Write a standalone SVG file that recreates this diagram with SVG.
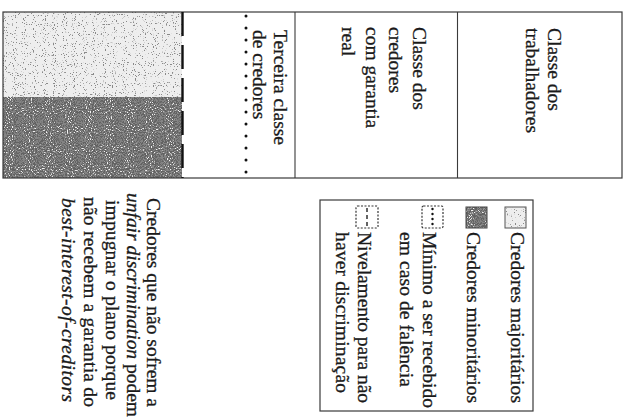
<svg xmlns="http://www.w3.org/2000/svg" width="626" height="419" viewBox="0 0 626 419">
<style>
  .t { font-family: "Liberation Serif", "Times New Roman", serif; font-size: 19.5px; fill: #1a1a1a; stroke: #1a1a1a; stroke-width: 0.3; }
  .i { font-style: italic; }
  .frame { fill: none; stroke: #3a3a3a; stroke-width: 1.2; }
  .rule { stroke: #3a3a3a; stroke-width: 1.1; fill: none; }
</style>
<defs>
  <filter id="speckLight" x="0" y="0" width="1" height="1">
    <feTurbulence type="fractalNoise" baseFrequency="0.9" numOctaves="1" seed="4" result="n"/>
    <feColorMatrix in="n" type="matrix" values="0 0 0 0 0.25  0 0 0 0 0.25  0 0 0 0 0.25  14 0 0 0 -8.6" result="dots"/>
    <feComposite in="dots" in2="SourceGraphic" operator="over"/>
  </filter>
  <filter id="speckDark" x="0" y="0" width="1" height="1">
    <feTurbulence type="fractalNoise" baseFrequency="0.95" numOctaves="1" seed="9" result="n"/>
    <feColorMatrix in="n" type="matrix" values="0 0 0 0 0.12  0 0 0 0 0.12  0 0 0 0 0.12  12 0 0 0 -5.6" result="blk"/>
    <feColorMatrix in="n" type="matrix" values="0 0 0 0 0.9  0 0 0 0 0.9  0 0 0 0 0.9  -12 0 0 0 4.4" result="wht"/>
    <feMerge><feMergeNode in="SourceGraphic"/><feMergeNode in="blk"/><feMergeNode in="wht"/></feMerge>
  </filter>
</defs>
<rect width="626" height="419" fill="#ffffff"/>

<!-- Left block: share of creditors -->
<g id="shares">
  <rect x="3" y="12" width="179" height="85" fill="#eeeeee" filter="url(#speckLight)"/>
  <rect x="3" y="97" width="179" height="81" fill="#858585" filter="url(#speckDark)"/>
</g>

<!-- Table frame -->
<g id="table">
  <rect class="frame" x="3" y="12" width="619" height="166"/>
</g>

<g id="connectors">
  <line x1="182.5" y1="12" x2="182.5" y2="178" stroke="#111" stroke-width="2.4" stroke-dasharray="24 9"/>
  <line x1="246" y1="16" x2="246" y2="174" stroke="#111" stroke-width="3" stroke-linecap="round" stroke-dasharray="0 12"/>
  <line class="rule" x1="295" y1="12" x2="295" y2="178"/>
  <line class="rule" x1="457.5" y1="12" x2="457.5" y2="178"/>
</g>

<g id="col-terceira">
  <text class="t" transform="translate(274,30) rotate(90)"><tspan x="0" y="0">Terceira classe</tspan><tspan x="0" y="21">de credores</tspan></text>
</g>

<g id="col-garantia">
  <text class="t" transform="translate(413,27) rotate(90)"><tspan x="0" y="0">Classe dos</tspan><tspan x="0" y="24">credores</tspan><tspan x="0" y="47">com garantia</tspan><tspan x="0" y="71">real</tspan></text>
</g>

<g id="col-trabalhadores">
  <text class="t" transform="translate(548,28) rotate(90)"><tspan x="0" y="0">Classe dos</tspan><tspan x="0" y="22">trabalhadores</tspan></text>
</g>

<!-- Note -->
<g id="note">
  <text class="t" transform="translate(147,198) rotate(90)" textLength="209">Credores que não sofrem a</text>
  <text class="t" transform="translate(127,193) rotate(90)" textLength="224"><tspan class="i">unfair discrimination</tspan> podem</text>
  <text class="t" transform="translate(106,200) rotate(90)" textLength="200">impugnar o plano porque</text>
  <text class="t" transform="translate(84,197) rotate(90)" textLength="210">não recebem a garantia do</text>
  <text class="t i" transform="translate(62,198) rotate(90)" textLength="204">best-interest-of-creditors</text>
</g>

<!-- Legend -->
<g id="legend">
  <rect class="frame" x="320" y="200" width="213" height="211" stroke-width="1"/>
  <g id="leg-majoritarios">
    <rect x="505" y="207" width="21" height="21" fill="#eeeeee" filter="url(#speckLight)"/>
    <rect x="505" y="207" width="21" height="21" fill="none" stroke="#555" stroke-width="1"/>
    <text class="t" transform="translate(511,232) rotate(90)" textLength="171">Credores majoritários</text>
  </g>
  <g id="leg-minoritarios">
    <rect x="466" y="207" width="21" height="21" fill="#858585" filter="url(#speckDark)"/>
    <rect x="466" y="207" width="21" height="21" fill="none" stroke="#444" stroke-width="1"/>
    <text class="t" transform="translate(467,232) rotate(90)" textLength="171">Credores minoritários</text>
  </g>
  <g id="leg-minimo">
    <rect x="422" y="206" width="21" height="22" rx="1.5" fill="none" stroke="#333" stroke-width="1.2" stroke-dasharray="2 1.5"/>
    <line x1="432.5" y1="209" x2="432.5" y2="226" stroke="#111" stroke-width="2.4" stroke-linecap="round" stroke-dasharray="0 5"/>
    <text class="t" transform="translate(423,232) rotate(90)"><tspan x="0" y="0" textLength="176">Mínimo a ser recebido</tspan><tspan x="0" y="23" textLength="155">em caso de falência</tspan></text>
  </g>
  <g id="leg-nivelamento">
    <rect x="356" y="206" width="22" height="22" rx="1.5" fill="none" stroke="#333" stroke-width="1.2" stroke-dasharray="2 1.5"/>
    <line x1="367" y1="208" x2="367" y2="227" stroke="#222" stroke-width="1.4" stroke-dasharray="4 3"/>
    <text class="t" transform="translate(358,232) rotate(90)"><tspan x="0" y="0" textLength="171">Nivelamento para não</tspan><tspan x="0" y="22" textLength="161">haver discriminação</tspan></text>
  </g>
</g>
</svg>
